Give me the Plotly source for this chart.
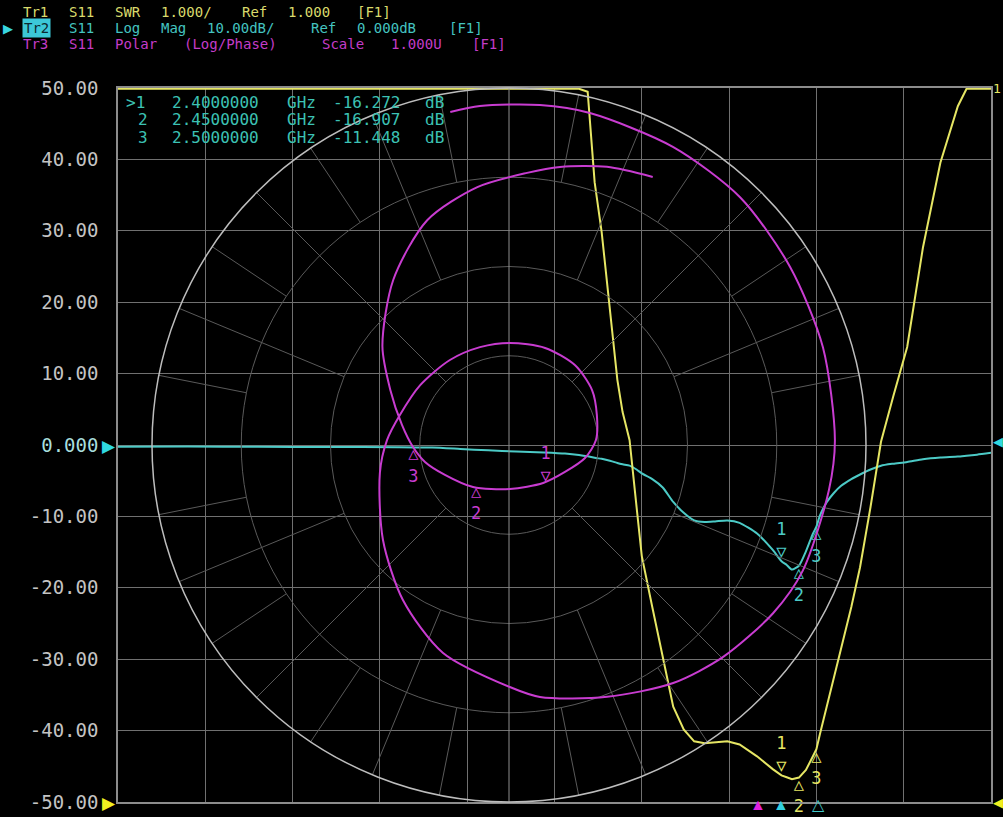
import plotly.graph_objects as go

# ---------------- data ----------------
freq_ghz = [0.50, 0.70, 0.90, 1.10, 1.30, 1.40, 1.48, 1.56, 1.64, 1.72, 1.78, 1.82,
            1.845, 1.865, 1.885, 1.90, 1.915, 1.93, 1.945, 1.965, 1.985, 2.00, 2.03,
            2.06, 2.09, 2.12, 2.15, 2.18, 2.21, 2.245, 2.28, 2.33, 2.375, 2.40, 2.415,
            2.43, 2.45, 2.47, 2.49, 2.50, 2.51, 2.53, 2.55, 2.57, 2.60, 2.625, 2.655,
            2.685, 2.72, 2.76, 2.805, 2.855, 2.905, 2.93, 2.96, 3.00]
logmag_db = [-0.25, -0.22, -0.25, -0.28, -0.30, -0.35, -0.55, -0.75, -0.90, -1.05, -1.20, -1.40,
             -1.59, -1.80, -1.94, -2.10, -2.29, -2.53, -2.71, -2.89, -3.43, -3.98, -4.78,
             -5.95, -7.98, -9.50, -10.57, -10.78, -10.70, -10.57, -10.90, -12.40, -14.70, -16.27, -16.80,
             -17.45, -16.91, -14.90, -12.40, -11.45, -9.90, -7.98, -6.72, -5.75, -4.78, -4.13, -3.43,
             -2.90, -2.62, -2.37, -1.99, -1.75, -1.62, -1.50, -1.35, -1.10]

marker_ids = ["1", "2", "3"]
marker_freq_ghz = [2.40, 2.45, 2.50]
marker_db = [-16.272, -16.907, -11.448]
polar_marker_phase_deg = [-48, -130, -179]

polar_mag = [0.947, 0.953, 0.956, 0.957, 0.953, 0.949, 0.932, 0.921, 0.913, 0.905, 0.895, 0.877,
             0.844, 0.810, 0.757, 0.711, 0.678, 0.611, 0.526, 0.442, 0.370, 0.342, 0.317, 0.300,
             0.290, 0.286, 0.286, 0.290, 0.290, 0.279, 0.260, 0.244, 0.216, 0.174, 0.143, 0.123,
             0.155, 0.198, 0.240, 0.269, 0.305, 0.367, 0.450, 0.565, 0.670, 0.728, 0.764, 0.792,
             0.826, 0.852]
polar_phase_deg = [100, 94.9, 84.8, 76.3, 61.2, 47, 32.3, 17.3, 0.9, -8, -23.2, -32.5,
                   -44.7, -55.4, -68.7, -83, -89.8, -107.6, -124.4, -143, -167.8, 177.7, 164.6, 146,
                   124.8, 106.5, 89.4, 69.6, 50.5, 33.5, 18.8, 3.3, -9.7, -25.7, -48, -88.7,
                   -130.6, -155, -168.6, -178.8, 169.4, 155, 142, 125, 110, 97, 86.2, 79.6,
                   70.6, 61.8]

ytick_vals = [50, 40, 30, 20, 10, 0, -10, -20, -30, -40, -50]
ytick_text = ["50.00", "40.00", "30.00", "20.00", "10.00",
              "<span style='color:#a8dede'>0.000</span>",
              "-10.00", "-20.00", "-30.00", "-40.00", "-50.00"]

header_tr1 = "Tr1 S11 SWR 1.000/ Ref 1.000 [F1]"
header_tr2_tag = "Tr2"
header_tr2 = "    S11 Log Mag 10.00dB/ Ref 0.000dB [F1]"
header_tr3 = "Tr3 S11 Polar (Log/Phase) Scale 1.000U [F1]"
marker_table = [">1  2.4000000 GHz -16.272 dB",
                " 2  2.4500000 GHz -16.907 dB",
                " 3  2.5000000 GHz -11.448 dB"]
bottom_marker_freqs = [2.333, 2.40, 2.505]
bottom_marker_syms = ["▲", "▲", "△"]
bottom_marker_cols = ["#e020e0", "#30d0e0", "#40c8c8"]

# ---------------- styling / geometry ----------------
W, H = 1003, 817
L, R, T, B = 118, 12, 88, 15
PW, PH = W - L - R, H - T - B
MONO = "DejaVu Sans Mono"
YEL, CYA, MAG = "#e6e664", "#4ccac6", "#c83cd0"
GRID, PGRID = "#707070", "#5a5a5a"
PITCH = 11.5  # character pitch of the analyser's screen font, px


def px(xp):
    return (xp - L) / PW


def py(yp):
    return (H - B - yp) / PH


def word_annotations(s, x0, y0, color, size):
    """Place each word of a fixed-pitch line at its character column."""
    out = []
    i = 0
    while i < len(s):
        if s[i] == " ":
            i += 1
            continue
        j = i
        while j < len(s) and s[j] != " ":
            j += 1
        out.append(dict(xref="paper", yref="paper", x=px(x0 + i * PITCH), y=py(y0),
                        text=s[i:j], xanchor="left", yanchor="middle", showarrow=False,
                        font=dict(family=MONO, size=size, color=color)))
        i = j
    return out


# SWR derived from the same S11 log-mag readings, clipped at top of the SWR scale
swr_top = 11.0
swr = []
for d in logmag_db:
    g = 10 ** (d / 20)
    swr.append(min((1 + g) / (1 - g), swr_top))
marker_swr = [(1 + 10 ** (d / 20)) / (1 - 10 ** (d / 20)) for d in marker_db]
marker_mag = [10 ** (d / 20) for d in marker_db]

fig = go.Figure()

# polar grid radial segments
seg_r, seg_t = [], []
seg_r2, seg_t2 = [], []
for k in range(32):
    ang = k * 11.25
    if k % 16 == 0:
        continue
    if k % 8 == 0:
        seg_r2 += [0, 1, None]
        seg_t2 += [ang, ang, None]
        continue
    r0 = 0.25 if k % 4 == 0 else (0.5 if k % 2 == 0 else 0.75)
    seg_r += [r0, 1, None]
    seg_t += [ang, ang, None]
fig.add_trace(go.Scatterpolar(r=seg_r, theta=seg_t, mode="lines",
                              line=dict(color=PGRID, width=1), hoverinfo="skip"))
fig.add_trace(go.Scatterpolar(r=seg_r2, theta=seg_t2, mode="lines",
                              line=dict(color="#8e8e8e", width=1), hoverinfo="skip"))

# Tr1 SWR (yellow)
fig.add_trace(go.Scatter(x=freq_ghz, y=swr, yaxis="y2", mode="lines",
                         line=dict(color=YEL, width=2)))
# Tr2 Log Mag (cyan)
fig.add_trace(go.Scatter(x=freq_ghz, y=logmag_db, mode="lines",
                         line=dict(color=CYA, width=2, shape="spline", smoothing=0.6)))
# Tr3 polar (magenta)
fig.add_trace(go.Scatterpolar(r=polar_mag, theta=polar_phase_deg, mode="lines",
                              line=dict(color=MAG, width=2, shape="spline", smoothing=0.8)))


# markers
def mtext(i):
    return f"{marker_ids[i]}<br>▽" if i == 0 else f"△<br>{marker_ids[i]}"


mpos = ["top center", "bottom center", "bottom center"]
MFS = 17
for i in range(3):
    fig.add_trace(go.Scatter(x=[marker_freq_ghz[i]], y=[marker_swr[i]], yaxis="y2", mode="text",
                             text=[mtext(i)], textposition=mpos[i], cliponaxis=False,
                             textfont=dict(family=MONO, size=MFS, color=YEL)))
    fig.add_trace(go.Scatter(x=[marker_freq_ghz[i]], y=[marker_db[i]], mode="text",
                             text=[mtext(i)], textposition=mpos[i], cliponaxis=False,
                             textfont=dict(family=MONO, size=MFS, color=CYA)))
    fig.add_trace(go.Scatterpolar(r=[marker_mag[i]], theta=[polar_marker_phase_deg[i]], mode="text",
                                  text=[mtext(i)], textposition=mpos[i],
                                  textfont=dict(family=MONO, size=MFS, color=MAG)))

ann = []
# header lines
HFS = 14
ann += word_annotations(header_tr1, 21, 12.5, "#dada6c", HFS)
ann.append(dict(xref="paper", yref="paper", x=px(1), y=py(28), text="▶", xanchor="left",
                yanchor="middle", showarrow=False, font=dict(color="#39d6e0", size=13)))
ann.append(dict(xref="paper", yref="paper", x=px(22), y=py(28), text=header_tr2_tag,
                xanchor="left", yanchor="middle", showarrow=False, bgcolor="#3cc8d8",
                borderpad=1, font=dict(family=MONO, size=HFS, color="#0c2830")))
ann += word_annotations(header_tr2, 21, 28, "#44c4c0", HFS)
ann += word_annotations(header_tr3, 21, 43.5, "#c43cc8", HFS)
# marker table
for j, row in enumerate(marker_table):
    ann += word_annotations(row, 124, 102 + 18 * j, "#3cc2b4", 16)

# active-marker indicators below the grid
for f, s, c in zip(bottom_marker_freqs, bottom_marker_syms, bottom_marker_cols):
    ann.append(dict(xref="x", yref="paper", x=f, y=py(817), text=s, xanchor="center",
                    yanchor="bottom", showarrow=False, font=dict(color=c, size=16)))

# reference-position triangles
ann += [
    dict(xref="paper", yref="y", x=0, y=0, text="▶", xanchor="right", yanchor="middle",
         showarrow=False, font=dict(color="#30d8e0", size=17)),
    dict(xref="paper", yref="y", x=0, y=-50, text="▶", xanchor="right", yanchor="middle",
         showarrow=False, font=dict(color="#f0f020", size=17)),
    dict(xref="paper", yref="y", x=1, y=0.5, text="◀", xanchor="left", yanchor="middle",
         showarrow=False, font=dict(color="#30d8e0", size=13)),
    dict(xref="paper", yref="y", x=1, y=-50, text="◀", xanchor="left", yanchor="middle",
         showarrow=False, font=dict(color="#f0f020", size=13)),
    dict(xref="paper", yref="paper", x=1, y=1, text="1", xanchor="left", yanchor="middle",
         showarrow=False, font=dict(family=MONO, color=YEL, size=13)),
]

fig.update_layout(
    width=W, height=H,
    margin=dict(l=L, r=R, t=T, b=B, autoexpand=False),
    paper_bgcolor="black", plot_bgcolor="black",
    showlegend=False,
    xaxis=dict(range=[0.5, 3.0], tick0=0.5, dtick=0.25, showticklabels=False, ticks="",
               showgrid=True, gridcolor=GRID, gridwidth=1, zeroline=False, automargin=False,
               showline=True, linecolor="#8c8c8c", linewidth=1.5, mirror=True),
    yaxis=dict(range=[-50, 50], tickvals=ytick_vals, ticktext=ytick_text, ticks="",
               showgrid=True, gridcolor=GRID, gridwidth=1, zeroline=False, automargin=False,
               showline=True, linecolor="#8c8c8c", linewidth=1.5, mirror=True,
               ticklabelstandoff=14,
               tickfont=dict(family=MONO, size=19, color="#c4c4c4")),
    yaxis2=dict(overlaying="y", range=[0.99, 11.01], visible=False, automargin=False),
    polar=dict(
        domain=dict(x=[px(152), px(866)], y=[0, 1]),
        bgcolor="rgba(0,0,0,0)",
        radialaxis=dict(range=[0, 1], tickvals=[0.25, 0.5, 0.75], showticklabels=False,
                        ticks="", showline=False, gridcolor=PGRID, gridwidth=1),
        angularaxis=dict(showgrid=False, showticklabels=False, ticks="", showline=True,
                         linecolor="#bdbdbd", linewidth=1.5, rotation=0,
                         direction="counterclockwise"),
    ),
    annotations=ann,
)

fig.write_html("out.html", config={"displayModeBar": False},
               post_script="document.body.style.margin='0';document.body.style.overflow='hidden';")
